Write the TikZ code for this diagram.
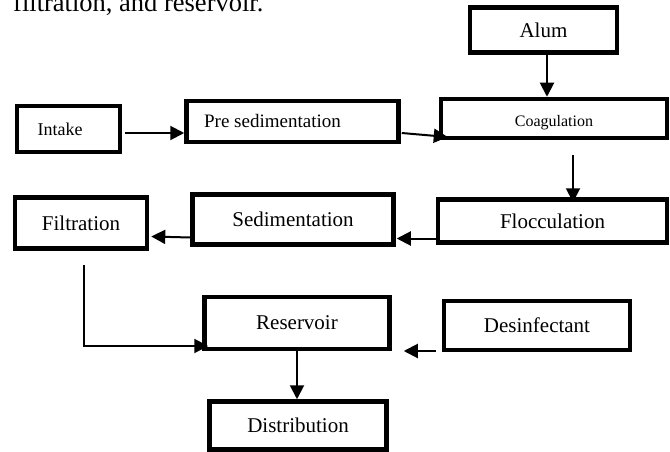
\documentclass[tikz,border=0pt]{standalone}
\usepackage{fontspec}
\setmainfont{Liberation Serif}
\usetikzlibrary{arrows.meta,positioning,calc}

\begin{document}
\begin{tikzpicture}[
    x=1pt,y=1pt,
    stage/.style={rectangle,draw,line width=4.5pt,align=center,font=\fontsize{21}{25}\selectfont},
    arrow/.style={line width=2pt,-{Triangle[length=14pt,width=14pt]}}
]
    \useasboundingbox (0,0) rectangle (670,-452);

    \node[anchor=base west,inner sep=0pt,font=\fontsize{26.5}{30}\selectfont] (caption) at (13,-12) {filtration, and reservoir.};

    \node[stage,minimum width=103pt,minimum height=46pt,font=\fontsize{18}{22}\selectfont] (intake) at (68.5,-129) {Intake\hspace*{17pt}};

    \node[stage,minimum width=212pt,minimum height=41pt,font=\fontsize{19}{23}\selectfont,right=62pt of intake,yshift=7.5pt] (presed) {Pre sedimentation\hspace*{40pt}};

    \node[stage,minimum width=226pt,minimum height=39pt,font=\fontsize{16}{20}\selectfont,text height=20pt,right=38pt of presed,yshift=3pt] (coag) {Coagulation};

    \node[stage,minimum width=147pt,minimum height=45pt,above=42pt of coag,xshift=-10.5pt] (alum) {Alum};

    \node[stage,minimum width=229pt,minimum height=43pt,below=57pt of coag,xshift=-1.5pt] (floc) {Flocculation};

    \node[stage,minimum width=201pt,minimum height=50pt,left=40pt of floc,yshift=1.5pt] (sed) {Sedimentation};

    \node[stage,minimum width=132pt,minimum height=51pt,left=41pt of sed,yshift=-3.5pt] (filt) {Filtration};

    \node[stage,minimum width=185pt,minimum height=52pt,below=48pt of sed,xshift=4pt] (res) {Reservoir};

    \node[stage,minimum width=186pt,minimum height=49pt,right=50pt of res,yshift=-2.5pt] (desinf) {Desinfectant};

    \node[stage,minimum width=177pt,minimum height=48pt,below=48pt of res,xshift=1pt] (dist) {Distribution};

    \draw[arrow] ([shift={(3pt,-4pt)}]intake.east) -- ([yshift=-11.5pt]presed.west);
    \draw[arrow] ([shift={(1pt,-11.5pt)}]presed.east) -- ([shift={(9pt,-18.5pt)}]coag.west);
    \draw[arrow] ([xshift=3.5pt]alum.south) -- ([xshift=-7pt]coag.north);
    \draw[arrow] ([shift={(19pt,-15pt)}]coag.south) -- ([shift={(20.5pt,-5pt)}]floc.north);
    \draw[arrow] ([yshift=-17.5pt]floc.west) -- ([shift={(1pt,-19pt)}]sed.east);
    \draw[arrow] ([yshift=-18pt]sed.west) -- ([shift={(2pt,-13.5pt)}]filt.east);
    \draw[arrow] ([shift={(3pt,-14pt)}]filt.south) |- ([shift={(6pt,-23pt)}]res.west);
    \draw[arrow] (res.south) -- (res.south |- dist.north);
    \draw[arrow] ([shift={(-6pt,-25.5pt)}]desinf.west) -- ([shift={(12pt,-28pt)}]res.east);
\end{tikzpicture}
\end{document}
